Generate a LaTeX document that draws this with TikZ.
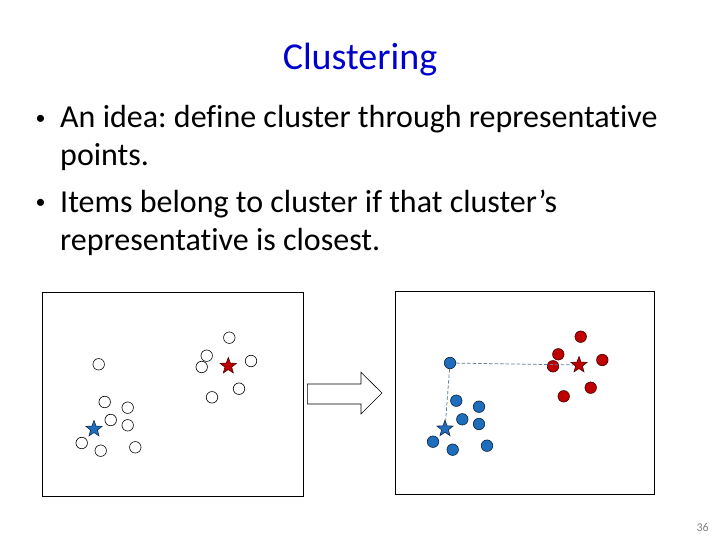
\documentclass[tikz,border=0pt]{standalone}
\usepackage{fontspec}
\setmainfont{Carlito}[Ligatures=NoCommon]
\usetikzlibrary{shapes.geometric}
\frenchspacing
\definecolor{SlideBlue}{HTML}{0000CC}
\definecolor{PtBlue}{HTML}{1F6EBE}
\definecolor{PtRed}{HTML}{C00000}
\definecolor{LinkGray}{HTML}{5F7F95}
\tikzset{
  dot/.style={circle,draw=black,line width=.6pt,minimum size=11.5pt,inner sep=0pt},
  bdot/.style={dot,fill=PtBlue,draw=black!70!PtBlue},
  rdot/.style={dot,fill=PtRed,draw=black!70!PtRed},
  centre/.style={star,star points=5,star point ratio=2.4,minimum size=17pt,inner sep=0pt,line width=.6pt},
  link/.style={LinkGray,dash pattern=on 3.5pt off 2pt,line width=.75pt},
  body/.style={font=\fontsize{32}{38}\selectfont,anchor=base west,inner sep=0pt},
  bul/.style={font=\fontsize{20}{24}\selectfont,anchor=base west,inner sep=0pt},
}
\begin{document}
\begin{tikzpicture}[x=1pt,y=-1pt]
  \useasboundingbox[fill=white] (0,0) rectangle (720,540);
  \node[font=\fontsize{38}{44}\selectfont,text=SlideBlue,anchor=base,inner sep=0pt] (title) at (360,70) {Clustering};
  \node[bul] (bul1) at (35.5,124.5) {•};
  \node[body] (l1) at (60,128) {An idea: define cluster through representative};
  \node[body] (l2) at (60,166) {points.};
  \node[bul] (bul2) at (35.5,208.5) {•};
  \node[body] (l3) at (60,212) {Items belong to cluster if that cluster’s};
  \node[body] (l4) at (60,251) {representative is closest.};
  % before
  \draw[line width=.8pt] (42.5,292.5) rectangle (303.5,496);
  \foreach \n/\p in {a/{229.3,337.7},b/{206.7,355.7},c/{201.7,367},d/{251,361},e/{239,388.7},f/{212,397.3},
      g/{98.7,364.3},h/{104.7,402},i/{127.7,407.7},j/{110.7,420},k/{127.7,425.3},l/{81.7,443},m/{100.7,450.7},n/{135.3,447.3}}
    \node[dot] (o\n) at (\p) {};
  \node[centre,fill=PtRed,draw=black!60!PtRed] (ostarR) at (228.3,366) {};
  \node[centre,fill=PtBlue,draw=black!60!PtBlue] (ostarB) at (94,429) {};
  % arrow
  \draw[line width=.6pt,fill=white] (307.3,384) -- (361,384) -- (361,372.3) -- (382,393) -- (361,414) -- (361,404) -- (307.3,404) -- cycle;
  % after
  \draw[line width=.8pt] (395,291) rectangle (654,494.7);
  \foreach \n/\p in {A/{580.7,336.7},B/{558.3,354.3},C/{553,366.3},D/{602.3,360},E/{590.7,387.7},F/{563.7,396.3}}
    \node[rdot] (r\n) at (\p) {};
  \foreach \n/\p in {A/{450,363},B/{456.3,400.7},C/{479,406.7},D/{462.3,419.3},E/{479,424},F/{433,441.7},G/{452.7,449.7},H/{487,445.7}}
    \node[bdot] (b\n) at (\p) {};
  \node[centre,fill=PtRed,draw=black!60!PtRed] (rstar) at (579,365) {};
  \node[centre,fill=PtBlue,draw=black!60!PtBlue] (bstar) at (445,428.7) {};
  \draw[link] (bA) -- (rstar);
  \draw[link] (bA) -- (bstar);
  \node[font=\fontsize{12}{14}\selectfont,text=gray,anchor=base east,inner sep=0pt] (pg) at (709,531) {36};
\end{tikzpicture}
\end{document}
